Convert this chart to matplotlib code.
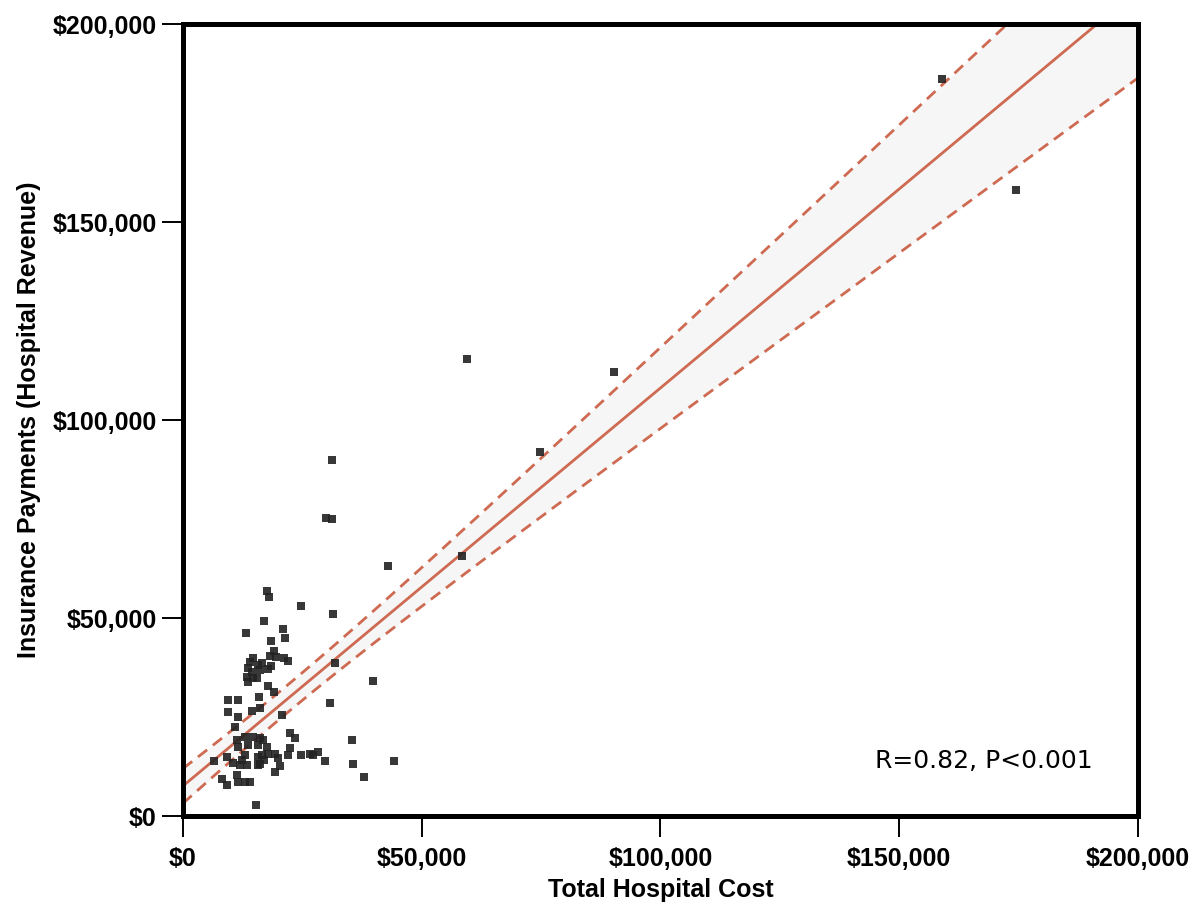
import numpy as np
import matplotlib
matplotlib.use("Agg")
import matplotlib.pyplot as plt
from matplotlib.ticker import FuncFormatter, FixedLocator

# ---- data (values in $1,000) ----
cost_k = [
    158.9, 174.4, 59.5, 90.3, 74.7, 31.2, 29.9, 31.2, 42.9, 58.4, 24.7, 31.4,
    31.8, 39.8, 30.8, 35.4, 35.6, 37.9, 44.2, 29.7, 24.7, 26.6, 27.2, 28.3,
    17.6, 18.0, 17.0, 13.2, 20.9, 21.4, 18.4, 19.1, 18.2, 19.5, 21.1, 22.0,
    16.5, 15.7, 16.1, 17.8, 18.4, 14.7, 14.0, 13.6, 14.4, 13.4, 14.7, 13.6,
    15.5, 17.8, 19.1, 15.9,
    9.4, 11.5, 9.4, 11.5, 14.4, 16.1, 10.9, 20.7,
    11.3, 13.0, 14.7, 16.1, 11.5, 13.6, 15.7, 13.0, 12.4, 15.7, 9.2, 6.5,
    10.5, 11.9, 13.4, 15.7, 11.3, 8.2, 9.2, 11.5, 13.0, 14.0, 15.3,
    22.4, 23.5, 16.8, 17.6, 22.4, 16.5, 17.8, 19.3, 19.9, 16.1, 17.0, 20.3,
    22.0, 19.3,
]
payment_k = [
    186.1, 158.1, 115.4, 112.1, 91.9, 89.9, 75.3, 75.0, 63.1, 65.7, 53.0, 51.0,
    38.6, 34.1, 28.5, 19.2, 13.1, 9.8, 13.9, 13.9, 15.4, 15.7, 15.4, 16.2,
    56.8, 55.3, 49.2, 46.2, 47.2, 44.9, 44.2, 41.7, 40.4, 40.2, 39.9, 39.1,
    38.6, 38.1, 36.9, 37.1, 37.9, 39.9, 38.9, 37.4, 36.4, 35.1, 34.8, 33.8,
    34.8, 32.8, 31.3, 30.1,
    29.3, 29.3, 26.3, 25.0, 26.5, 27.3, 22.5, 25.5,
    19.2, 19.9, 19.9, 19.7, 17.4, 17.9, 17.9, 15.4, 14.1, 14.9, 14.9, 13.9,
    13.4, 12.9, 12.9, 12.9, 10.4, 9.3, 7.8, 8.6, 8.6, 8.6, 2.8,
    21.0, 19.7, 19.2, 17.4, 17.2, 15.4, 15.7, 15.7, 14.6, 13.1, 14.1, 12.6,
    15.4, 11.1,
]

# regression fit and its confidence band parameters
fit_intercept = 7600.0
fit_slope = 1.005
band_center_x = 22000.0
band_var0 = 12.0e6          # squared half-width at the centre
band_var_slope = 0.0152     # growth of squared half-width

ticks = [0, 50000, 100000, 150000, 200000]
stat_text = "R=0.82, P<0.001"
x_label = "Total Hospital Cost"
y_label = "Insurance Payments (Hospital Revenue)"

line_color = "#cf6a52"

plt.rcParams["font.family"] = ["Liberation Sans", "DejaVu Sans"]

fig = plt.figure(figsize=(12, 9.13), dpi=100)
ax = fig.add_axes([0.1525, 0.1062, 0.7958, 0.8675])

x = np.array(cost_k) * 1000
y = np.array(payment_k) * 1000

xs = np.linspace(0, 200000, 400)
yfit = fit_intercept + fit_slope * xs
half = np.sqrt(band_var0 + band_var_slope * (xs - band_center_x) ** 2)

ax.fill_between(xs, yfit - half, yfit + half, color="#f6f6f6", lw=0, zorder=1)
ax.plot(xs, yfit, color=line_color, lw=2.0, zorder=2)
ax.plot(xs, yfit + half, color=line_color, lw=2.0, ls=(0, (4.2, 2.6)), zorder=2)
ax.plot(xs, yfit - half, color=line_color, lw=2.0, ls=(0, (4.2, 2.6)), zorder=2)

ax.scatter(x, y, marker="s", s=26, color="#222222", alpha=0.9, linewidths=0, zorder=3)

ax.set_xlim(0, 200000)
ax.set_ylim(0, 200000)
ax.xaxis.set_major_locator(FixedLocator(ticks))
ax.yaxis.set_major_locator(FixedLocator(ticks))
fmt = FuncFormatter(lambda v, p: "${:,.0f}".format(v))
ax.xaxis.set_major_formatter(fmt)
ax.yaxis.set_major_formatter(fmt)

for s in ax.spines.values():
    s.set_linewidth(3.6)
    s.set_color("black")

ax.tick_params(axis="x", length=15, width=1.4, pad=7, labelsize=18, direction="out")
ax.tick_params(axis="y", length=15, width=1.4, pad=4, labelsize=18, direction="out")
for lab in ax.get_xticklabels() + ax.get_yticklabels():
    lab.set_fontweight("bold")

ax.set_xlabel(x_label, fontsize=18, fontweight="bold", labelpad=5)
ax.set_ylabel(y_label, fontsize=18, fontweight="bold", labelpad=8)

ax.text(145000, 14000, stat_text, fontsize=18, family="DejaVu Sans",
        ha="left", va="center", zorder=4)

fig.savefig("out.png", dpi=100)
